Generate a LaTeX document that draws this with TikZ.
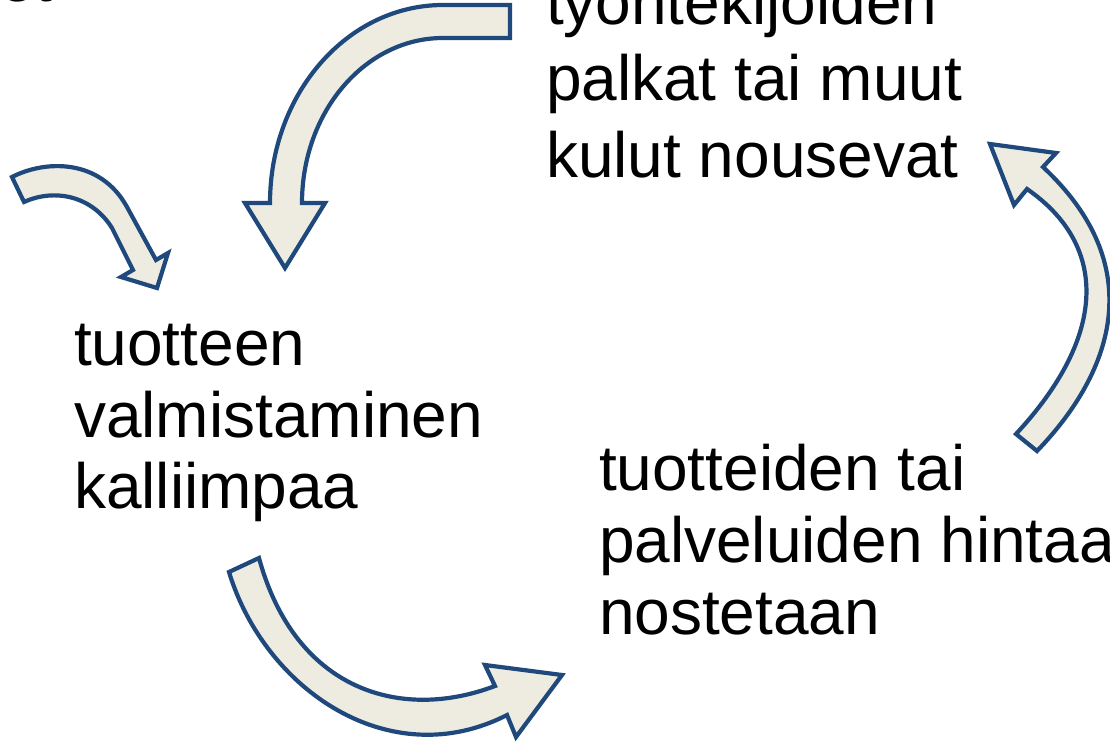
\documentclass[tikz,border=0pt]{standalone}
\usepackage{fontspec}
\setmainfont{Liberation Sans}
\definecolor{arrowfill}{RGB}{238,236,225}
\definecolor{arrowline}{RGB}{31,73,125}
\tikzset{
  bigarrow/.style={fill=arrowfill, draw=arrowline, line width=4.2pt, line join=miter},
  txt/.style={inner sep=0pt, outer sep=0pt, anchor=base west, font=\fontsize{64}{72}\selectfont}
}
\begin{document}
\begin{tikzpicture}[x=1pt,y=1pt,yscale=-1]
\useasboundingbox (0,0) rectangle (1110,741);
\clip (0,0) rectangle (1110,741);
% top arrow
\draw[bigarrow] (510,5) -- (443,5)
  arc[start angle=-90, end angle=-180, x radius=173, y radius=198]
  -- (245,203) -- (285,268) -- (325,203) -- (302,203)
  arc[start angle=180, end angle=270, x radius=141, y radius=165]
  -- (510,38) -- cycle;
% small left arrow
\draw[bigarrow] (12,177) .. controls (45,160) and (100,158) .. (127,207)
  -- (156,260) -- (168,253) -- (157,288) -- (121,277) -- (133,270)
  -- (112,228) .. controls (92,196) and (55,188) .. (24,202) -- cycle;
% right arrow
\draw[bigarrow] (1016,434) .. controls (1108,335) and (1108,245) .. (1027,189)
  -- (1014,205) -- (990,144) -- (1056,153) -- (1043,167)
  .. controls (1148,265) and (1115,370) .. (1037,451) -- cycle;
% bottom arrow
\draw[bigarrow] (229,572) .. controls (265,690) and (390,775) .. (507,715)
  -- (516,737) -- (562,675) -- (485,665) -- (495,686)
  .. controls (400,722) and (295,690) .. (259,558) -- cycle;
% texts
\node[txt] (frag) at (-1,1.5) {et};
\node[txt] (a1) at (546,25) {työntekijöiden};
\node[txt] (a2) at (546,101) {palkat tai muut};
\node[txt] (a3) at (546,177) {kulut nousevat};
\node[txt] (b1) at (74,365) {tuotteen};
\node[txt] (b2) at (74,437) {valmistaminen};
\node[txt] (b3) at (74,508) {kalliimpaa};
\node[txt] (c1) at (599,490) {tuotteiden tai};
\node[txt] (c2) at (599,562) {palveluiden hintaa};
\node[txt] (c3) at (599,634) {nostetaan};
\end{tikzpicture}
\end{document}
